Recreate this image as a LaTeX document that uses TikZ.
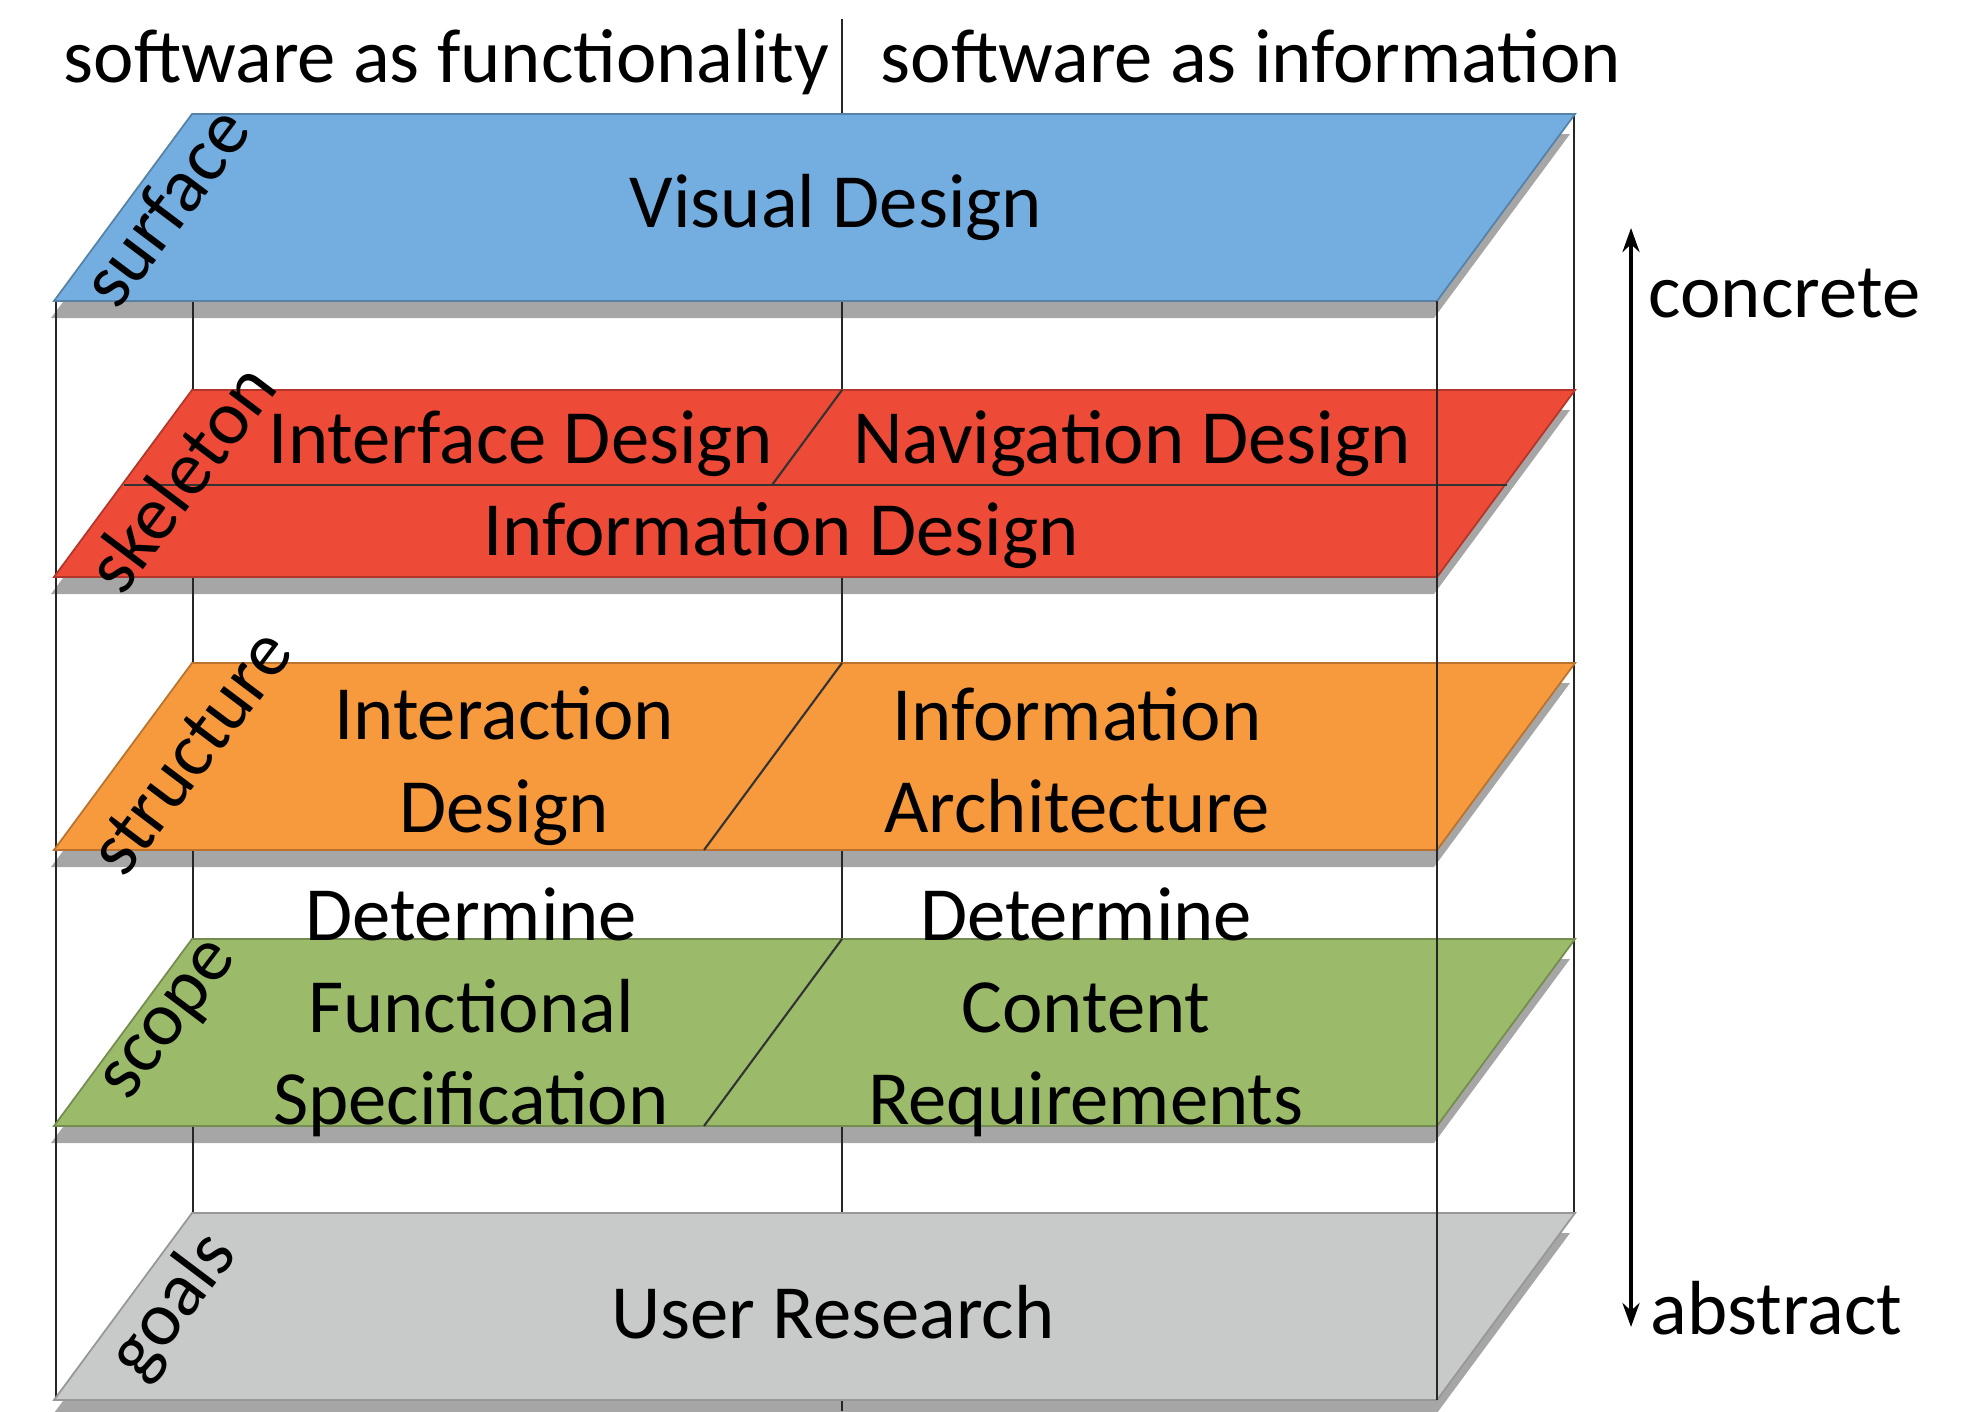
\documentclass[tikz,border=0pt]{standalone}
\usepackage{fontspec}
\setmainfont{Carlito}
\usetikzlibrary{arrows.meta}

\definecolor{surfaceblue}{RGB}{116,174,224}
\definecolor{skeletonred}{RGB}{238,74,56}
\definecolor{structureorange}{RGB}{247,153,61}
\definecolor{scopegreen}{RGB}{155,187,106}
\definecolor{goalsgray}{RGB}{200,201,201}
\definecolor{shadowgray}{RGB}{166,166,166}
\definecolor{edgeline}{RGB}{38,38,38}

\begin{document}
\begin{tikzpicture}[x=0.01cm, y=-0.01cm,
  txt/.style={font=\fontsize{21.8}{26.2}\selectfont, inner sep=0pt, align=center, text=black},
  layerlabel/.style={txt, rotate=53},
  frame/.style={draw=edgeline, line width=0.8pt},
  divider/.style={draw=black!80, line width=0.6pt},
  planeshadow/.style={fill=shadowgray},
]
\useasboundingbox (0,0) rectangle (1985,1411);

% drop shadows under each plane
\foreach \top in {114,390,663,939,1213}{
  \fill[planeshadow] (51,{\top+204}) -- (1434,{\top+204}) -- (1570,{\top+20}) -- (189,{\top+20}) -- cycle;
}

% box edges and the centre divider that sit behind the planes
\coordinate (midtop) at (842,19);
\coordinate (midbot) at (842,1411);
\coordinate (blt) at (193,114);
\coordinate (blb) at (193,1213);
\coordinate (brt) at (1574,114);
\coordinate (brb) at (1574,1213);
\coordinate (flt) at (56,301);
\coordinate (flb) at (56,1400);
\coordinate (frt) at (1437,301);
\coordinate (frb) at (1437,1400);
\draw[frame] (midtop) -- (midbot);
\draw[frame] (blt) -- (blb);
\draw[frame] (brt) -- (brb);
\draw[frame] (flt) -- (flb);

% the five planes
\foreach \name/\top/\col in {surface/114/surfaceblue, skeleton/390/skeletonred,
    structure/663/structureorange, scope/939/scopegreen, goals/1213/goalsgray}{
  \coordinate (\name-tl) at (192,\top);
  \coordinate (\name-tr) at (1575,\top);
  \coordinate (\name-br) at (1437,{\top+187});
  \coordinate (\name-bl) at (54,{\top+187});
  \filldraw[fill=\col, draw=\col!75!black, line width=0.5pt]
    (\name-bl) -- (\name-br) -- (\name-tr) -- (\name-tl) -- cycle;
}

% dividers inside the planes
\coordinate (skel-ml) at (124,485);
\coordinate (skel-mr) at (1507,485);
\draw[divider] (skel-ml) -- (skel-mr);
\coordinate (skel-sa) at (842,390);
\coordinate (skel-sb) at (772,485);
\draw[divider] (skel-sa) -- (skel-sb);
\coordinate (struct-sa) at (842,663);
\coordinate (struct-sb) at (704,850);
\draw[divider] (struct-sa) -- (struct-sb);
\coordinate (scope-sa) at (842,939);
\coordinate (scope-sb) at (704,1126);
\draw[divider] (scope-sa) -- (scope-sb);

% front right edge lies in front of the planes
\draw[frame] (frt) -- (frb);

% column headings
\node[txt, anchor=base east] (hfunc) at (830,82) {software as functionality};
\node[txt, anchor=base west] (hinfo) at (880,82) {software as information};

% plane names along the slanted edge
\node[layerlabel] (lsurface) at (165,206) {surface};
\node[layerlabel] (lskeleton) at (180,477) {skeleton};
\node[layerlabel] (lstructure) at (191,752) {structure};
\node[layerlabel] (lscope) at (173,1023) {scope};
\node[layerlabel] (lgoals) at (174,1306) {goals};

% contents of the planes
\node[txt] (visual) at (836,207) {Visual Design};
\node[txt] (interface) at (521,444) {Interface Design};
\node[txt] (navigation) at (1132,444) {Navigation Design};
\node[txt] (infodesign) at (781,536) {Information Design};
\node[txt] (interaction) at (504,766) {Interaction\\Design};
\node[txt] (infoarch) at (1077,760) {Information\\Architecture};
\node[txt] (funcspec) at (471,1012) {Determine\\Functional\\Specification};
\node[txt] (contreq) at (1086,1012) {Determine\\Content\\Requirements};
\node[txt] (research) at (833,1312) {User Research};

% concrete / abstract scale
\coordinate (hi) at (1631,228);
\coordinate (lo) at (1631,1327);
\draw[line width=1.1pt, {Stealth[length=0.24cm,width=0.17cm]}-{Stealth[length=0.24cm,width=0.17cm]}] (lo) -- (hi);
\node[txt, anchor=west] (concrete) at (1648,294) {concrete};
\node[txt, anchor=west] (abstract) at (1650,1308) {abstract};
\end{tikzpicture}
\end{document}
